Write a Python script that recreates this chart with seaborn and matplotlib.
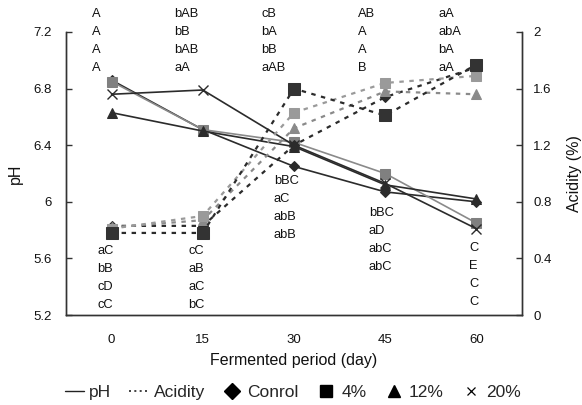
import matplotlib
matplotlib.use("Agg")
import matplotlib.pyplot as plt
from matplotlib.lines import Line2D
import seaborn as sns
import numpy as np

# ---------------- data ----------------
days = [0, 15, 30, 45, 60]

ph_control = [6.86, 6.51, 6.25, 6.07, 6.00]
ph_4 = [6.85, 6.51, 6.42, 6.20, 5.85]
ph_12 = [6.63, 6.50, 6.39, 6.12, 6.02]
ph_20 = [6.76, 6.79, 6.40, 6.13, 5.81]

acid_control = [0.63, 0.63, 1.20, 1.54, 1.75]
acid_4 = [0.58, 0.58, 1.60, 1.41, 1.77]
acid_12 = [0.62, 0.67, 1.32, 1.58, 1.56]
acid_20 = [0.61, 0.70, 1.43, 1.64, 1.69]

top_letters = [
    ["A", "A", "A", "A"],
    ["bAB", "bB", "bAB", "aA"],
    ["cB", "bA", "bB", "aAB"],
    ["AB", "A", "A", "B"],
    ["aA", "abA", "bA", "aA"],
]
bottom_letters = [
    ["aC", "bB", "cD", "cC"],
    ["cC", "aB", "aC", "bC"],
    ["bBC", "aC", "abB", "abB"],
    ["bBC", "aD", "abC", "abC"],
    ["C", "E", "C", "C"],
]

xtick_labels = ["0", "15", "30", "45", "60"]

# ---------------- style ----------------
sns.set_theme(style="white")
plt.rcParams["font.family"] = ["Liberation Sans", "DejaVu Sans"]

fig = plt.figure(figsize=(5.82, 4.05), dpi=100)
ax = fig.add_axes([0.1134, 0.2222, 0.7835, 0.6988])
ax2 = ax.twinx()

dark = "#2b2b2b"
mid = "#808080"
light = "#9a9a9a"

# pH (solid)
sns.lineplot(x=days, y=ph_control, ax=ax, color=dark, lw=1.2, marker="D",
             markersize=5.5, markeredgecolor=dark, markerfacecolor=dark)
sns.lineplot(x=days, y=ph_4, ax=ax, color="#8a8a8a", lw=1.2, marker="s",
             markersize=7, markeredgecolor=mid, markerfacecolor=mid)
sns.lineplot(x=days, y=ph_12, ax=ax, color=dark, lw=1.2, marker="^",
             markersize=7, markeredgecolor=dark, markerfacecolor=dark)
sns.lineplot(x=days, y=ph_20, ax=ax, color=dark, lw=1.2, marker="x",
             markersize=7, markeredgecolor=dark, markeredgewidth=1.0)

# Acidity (dotted)
dash = (0, (2.0, 2.5))
sns.lineplot(x=days, y=acid_control, ax=ax2, color=dark, lw=1.6, linestyle=dash,
             marker="D", markersize=5.5, markeredgecolor=dark, markerfacecolor=dark)
sns.lineplot(x=days, y=acid_12, ax=ax2, color="#8a8a8a", lw=1.6, linestyle=dash,
             marker="^", markersize=7, markeredgecolor="#8a8a8a", markerfacecolor="#8a8a8a")
sns.lineplot(x=days, y=acid_20, ax=ax2, color=light, lw=1.6, linestyle=dash,
             marker="s", markersize=7, markeredgecolor=light, markerfacecolor=light)
sns.lineplot(x=days, y=acid_4, ax=ax2, color=dark, lw=1.6, linestyle=dash,
             marker="s", markersize=9, markeredgecolor="#333333", markerfacecolor="#333333")

# ---------------- axes ----------------
ax.set_xlim(-7.5, 67.5)
ax.set_ylim(5.2, 7.2)
ax2.set_ylim(0, 2)
ax.set_yticks([5.2, 5.6, 6.0, 6.4, 6.8, 7.2])
ax.set_yticklabels(["5.2", "5.6", "6", "6.4", "6.8", "7.2"])
ax2.set_yticks([0, 0.4, 0.8, 1.2, 1.6, 2.0])
ax2.set_yticklabels(["0", "0.4", "0.8", "1.2", "1.6", "2"])
ax.set_xticks(days)
ax.set_xticklabels(xtick_labels)
ax.set_xticks([7.5, 22.5, 37.5, 52.5], minor=True)

for a in (ax, ax2):
    for s in a.spines.values():
        s.set_color("#333333")
        s.set_linewidth(1.0)
    a.spines["top"].set_visible(False)
    a.grid(False)
ax.spines["right"].set_visible(True)

ax.tick_params(axis="x", which="major", length=0, labelsize=9.5, pad=14, colors="#111111")
ax.tick_params(axis="x", which="minor", length=4, direction="in", color="#333333", width=1)
ax.tick_params(axis="y", length=4, direction="in", labelsize=9.5, left=True, pad=10,
               color="#333333", width=1, labelcolor="#111111")
ax2.tick_params(axis="y", length=4, direction="in", labelsize=9.5, right=True, pad=8,
                color="#333333", width=1, labelcolor="#111111")

ax.set_xlabel("Fermented period (day)", fontsize=11.5, labelpad=5, color="#111111")
ax.set_ylabel("pH", fontsize=11.5, labelpad=8, color="#111111")
ax2.set_ylabel("Acidity (%)", fontsize=11.5, labelpad=11, color="#111111")

# ---------------- letters ----------------
top_x = [-3.2, 10.3, 24.6, 40.5, 53.7]
bot_x = [-2.4, 12.6, 26.7, 42.3, 58.8]
top_y0 = 7.327
bot_y0 = [5.652, 5.652, 6.147, 5.921, 5.673]
row = 0.127
for i in range(len(days)):
    for j, t in enumerate(top_letters[i]):
        ax.text(top_x[i], top_y0 - j * row, t, ha="left", va="center",
                fontsize=9.3, color="#111111", clip_on=False)
    for j, t in enumerate(bottom_letters[i]):
        ax.text(bot_x[i], bot_y0[i] - j * row, t, ha="left", va="center",
                fontsize=9.3, color="#111111", clip_on=False)

# ---------------- legend ----------------
handles = [
    Line2D([], [], color="#222222", lw=1.0, ls="-"),
    Line2D([], [], color="#222222", lw=1.2, ls=(0, (1.2, 2))),
    Line2D([], [], color="black", ls="none", marker="D", markersize=8),
    Line2D([], [], color="black", ls="none", marker="s", markersize=9),
    Line2D([], [], color="black", ls="none", marker="^", markersize=9),
    Line2D([], [], color="black", ls="none", marker="x", markersize=6, markeredgewidth=0.9),
]
labels = ["pH", "Acidity", "Conrol", "4%", "12%", "20%"]
fig.legend(handles, labels, loc="center", bbox_to_anchor=(0.503, 0.032), ncol=6,
           frameon=False, fontsize=12.5, handlelength=1.1, handletextpad=0.3,
           columnspacing=1.05, borderpad=0)

fig.savefig("out.png", dpi=100)
